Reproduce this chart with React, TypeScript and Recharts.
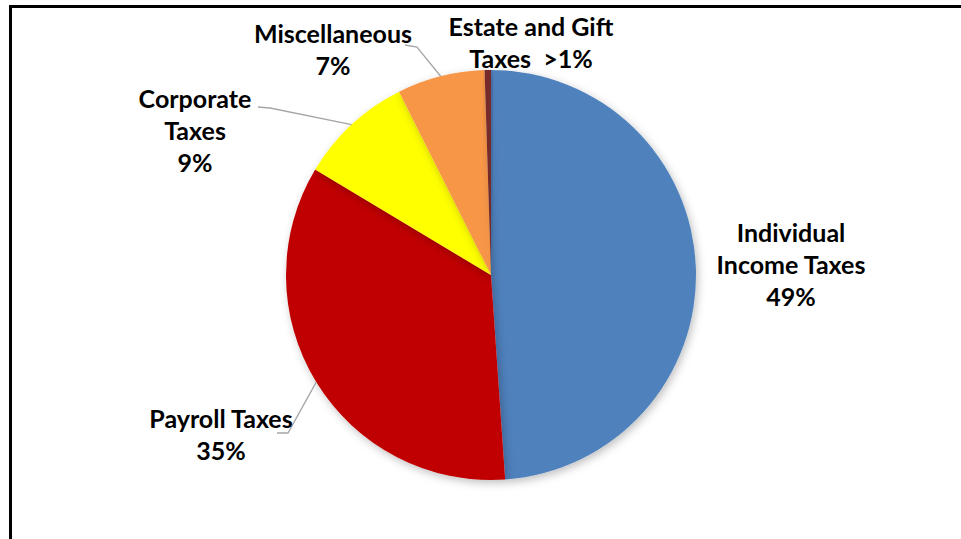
import { PieChart, Pie, Cell } from 'recharts'

// share of federal revenue, in percent
const categories = [
  'Individual Income Taxes',
  'Payroll Taxes',
  'Corporate Taxes',
  'Miscellaneous',
  'Estate and Gift Taxes',
]
const shares = [48.9, 34.7, 9.0, 6.9, 0.5]
const colors = ['#4F81BD', '#C00000', '#FFFF00', '#F79646', '#772C2A']

// label text, one entry per row
const labelRows = [
  ['Individual', 'Income Taxes', '49%'],
  ['Payroll Taxes', '35%'],
  ['Corporate', 'Taxes', '9%'],
  ['Miscellaneous', '7%'],
  ['Estate and Gift', 'Taxes  >1%'],
]

// where each label sits relative to the pie centre, and its leader elbow
const labelLayout = [
  { dx: 300, dy: -33, line: null },
  { dx: -270, dy: 153, line: { elbow: [-203, 158], tail: [-214, 158] } },
  { dx: -296, dy: -167, line: { elbow: [-221, -167], tail: [-233, -168] } },
  { dx: -158, dy: -232, line: { elbow: [-74, -228], tail: [-86, -230] } },
  { dx: 40, dy: -239, line: null },
]

const data = categories.map((name, i) => ({ name, value: shares[i] }))

const RAD = Math.PI / 180
const LINE_H = 32

function renderLabel(props: any) {
  const { cx, cy, midAngle, outerRadius, index } = props
  const lay = labelLayout[index]
  const rows = labelRows[index]
  const ex = cx + outerRadius * Math.cos(-midAngle * RAD)
  const ey = cy + outerRadius * Math.sin(-midAngle * RAD)
  return (
    <g key={'lbl-' + index}>
      {lay.line && (
        <polyline
          points={`${ex},${ey} ${cx + lay.line.elbow[0]},${cy + lay.line.elbow[1]} ${cx + lay.line.tail[0]},${cy + lay.line.tail[1]}`}
          fill="none"
          stroke="#A6A6A6"
          strokeWidth={1.3}
        />
      )}
      <text
        x={cx + lay.dx}
        y={cy + lay.dy}
        textAnchor="middle"
        fill="#000"
        style={{ fontFamily: 'Lato, sans-serif', fontWeight: 700, fontSize: 25, whiteSpace: 'pre' }}
      >
        {rows.map((r, j) => (
          <tspan key={j} x={cx + lay.dx} dy={j === 0 ? 0 : LINE_H}>
            {r}
          </tspan>
        ))}
      </text>
    </g>
  )
}

export default function App() {
  return (
    <div style={{ position: 'absolute', left: 0, top: 0, width: 961, height: 539, background: '#fff', overflow: 'hidden' }}>
      <svg width={0} height={0} style={{ position: 'absolute' }}>
        <defs>
          <filter id="pieShadow" x="-20%" y="-20%" width="140%" height="140%">
            <feDropShadow dx="2" dy="3" stdDeviation="4" floodColor="#000" floodOpacity="0.25" />
          </filter>
        </defs>
      </svg>
      <div
        style={{
          position: 'absolute',
          left: 9,
          top: 5,
          width: 960,
          height: 540,
          borderTop: '3px solid #000',
          borderLeft: '3px solid #000',
        }}
      />
      <div style={{ position: 'absolute', left: 0, top: 0 }}>
        <PieChart width={961} height={539} margin={{ top: 0, right: 0, bottom: 0, left: 0 }}>
          <Pie
            data={data}
            dataKey="value"
            nameKey="name"
            cx={491}
            cy={275}
            outerRadius={205}
            startAngle={90}
            endAngle={-270}
            stroke="none"
            label={renderLabel}
            labelLine={false}
            isAnimationActive={false}
            style={{ filter: 'url(#pieShadow)' }}
          >
            {data.map((d, i) => (
              <Cell key={d.name} fill={colors[i]} stroke="none" />
            ))}
          </Pie>
        </PieChart>
      </div>
    </div>
  )
}
